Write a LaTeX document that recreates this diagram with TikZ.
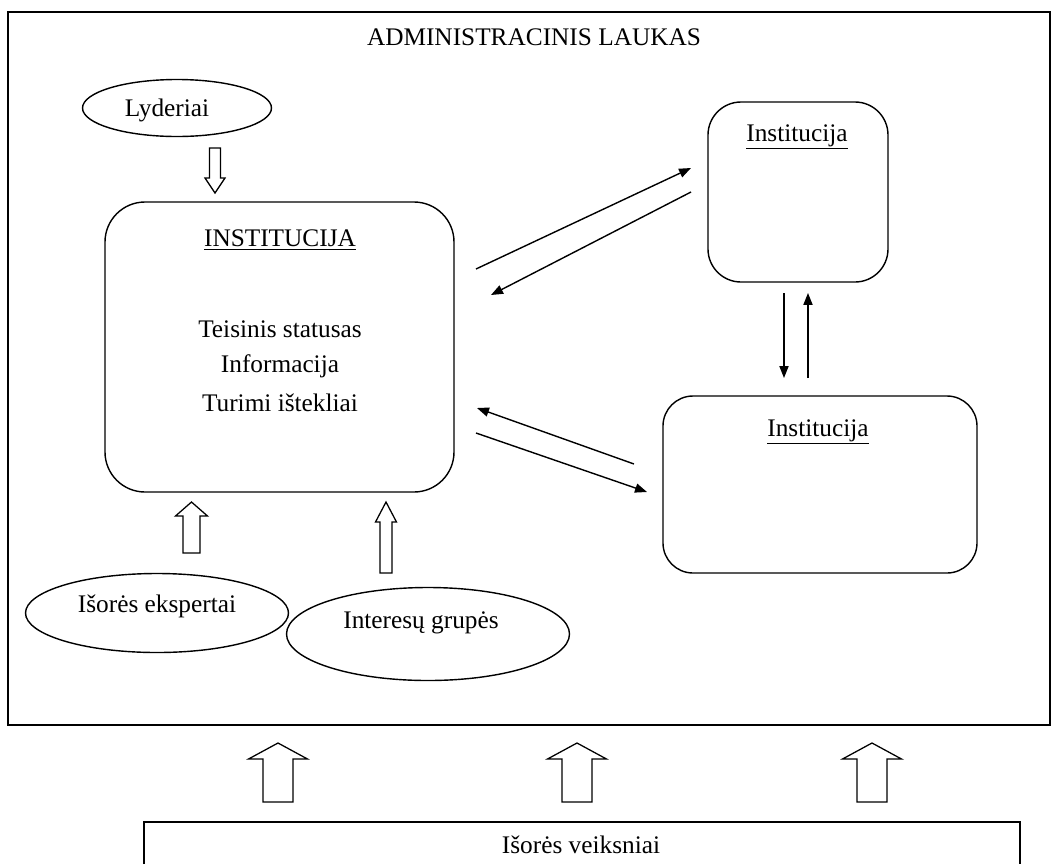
\documentclass[tikz,border=0pt]{standalone}
\usepackage{fontspec}
\setmainfont{Liberation Serif}
\usetikzlibrary{arrows.meta}
\usetikzlibrary{shapes.geometric}

\def\px{0.025cm}
\tikzset{
  remas/.style={line width=1pt},
  oval/.style={draw, ellipse, line width=1pt, inner sep=0pt},
  inst/.style={draw, rectangle, line width=1pt, inner sep=0pt},
  txt/.style={font=\fontsize{18}{22}\selectfont, inner sep=0pt},
  rysys/.style={line width=1pt, -{Triangle[length=8.5pt,width=6.5pt]}},
  tuscia/.style={draw, line width=0.9pt, fill=white, line join=miter}
}
% x, tail y, head base y, tip y, half shaft, half head
\newcommand{\tusciarodykle}[6]{%
  \draw[tuscia] (#1-#5,#2)--(#1-#5,#3)--(#1-#6,#3)--(#1,#4)
  --(#1+#6,#3)--(#1+#5,#3)--(#1+#5,#2)--cycle;}

\begin{document}
\begin{tikzpicture}[x=0.025cm, y=-0.025cm]
  \useasboundingbox (0,0) rectangle (1054,864);
  %laukas
  \draw[remas] (8,12) rectangle (1050,725);
  \node[txt] (lauk) at (534,37) {ADMINISTRACINIS LAUKAS};

  %institucijos
  \node[inst, rounded corners=1cm, minimum width=349*\px, minimum height=290*\px] (inst) at (279.5,347) {};
  \node[txt] (instt) at (280,240) {\underline{INSTITUCIJA}};
  \node[txt] (teis) at (280,329) {Teisinis statusas};
  \node[txt] (info) at (280,366) {Informacija};
  \node[txt] (ist) at (280,403) {Turimi ištekliai};

  \node[inst, rounded corners=0.825cm, minimum width=180*\px, minimum height=180*\px] (inta) at (798,192) {};
  \node[txt] (intat) at (797,137) {\underline{Institucija}};
  \node[inst, rounded corners=0.75cm, minimum width=314*\px, minimum height=177*\px] (intb) at (820,484.5) {};
  \node[txt] (intbt) at (818,432) {\underline{Institucija}};

  %ovalai
  \node[oval, minimum width=189*\px, minimum height=57*\px] (lyd) at (177,108) {};
  \node[txt] (lydt) at (167,110) {Lyderiai};
  \node[oval, minimum width=263*\px, minimum height=79*\px] (eksp) at (157,613) {};
  \node[txt] (ekspt) at (157,606) {Išorės ekspertai};
  \node[oval, minimum width=283*\px, minimum height=93*\px] (grup) at (428,634) {};
  \node[txt] (grupt) at (421,623) {Interesų grupės};

  %rysiai
  \coordinate (a1) at (476,269); \coordinate (a2) at (691,168);
  \coordinate (b1) at (691,192); \coordinate (b2) at (491,295);
  \coordinate (c1) at (634,464); \coordinate (c2) at (477,408);
  \coordinate (d1) at (476,433); \coordinate (d2) at (647,492);
  \coordinate (e1) at (784,293); \coordinate (e2) at (784,378);
  \coordinate (f1) at (808,378); \coordinate (f2) at (808,293);
  \draw[rysys] (a1)--(a2);
  \draw[rysys] (b1)--(b2);
  \draw[rysys] (c1)--(c2);
  \draw[rysys] (d1)--(d2);
  \draw[rysys] (e1)--(e2);
  \draw[rysys] (f1)--(f2);

  %tuscios rodykles
  \tusciarodykle{215}{148}{178}{193}{5.5}{10}
  \tusciarodykle{191.5}{553}{516}{502}{8.5}{16}
  \tusciarodykle{386}{573}{522}{502}{6}{10.5}
  \foreach \xx in {278,577,872}{
    \tusciarodykle{\xx}{802}{759}{743}{15}{29.5}
  }

  %isores veiksniai
  \draw[remas] (144,864)--(144,822)--(1020,822)--(1020,864);
  \node[txt] (isor) at (581,845) {Išorės veiksniai};
\end{tikzpicture}
\end{document}
